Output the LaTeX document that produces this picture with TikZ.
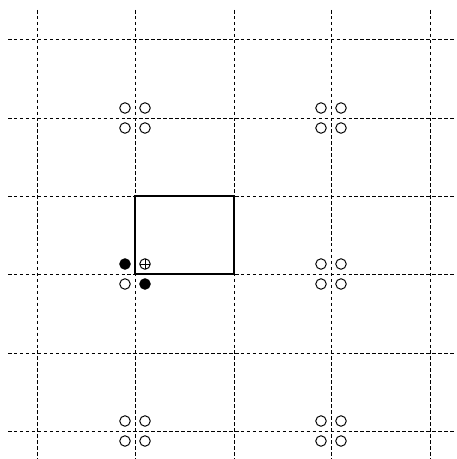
\documentclass[tikz,border=0pt]{standalone}
\begin{document}
\begin{tikzpicture}[x=0.02cm,y=-0.02cm]
  \tikzset{
  grid_line/.style={dash pattern=on 2pt off 1.4pt, line width=0.55pt},
  hole/.style={circle, draw, line width=0.55pt, inner sep=0pt, minimum size=0.21cm},
  dot/.style={hole, fill=black},
  probe/.style={hole, path picture={
      \draw[line width=0.45pt] (path picture bounding box.north) -- (path picture bounding box.south)
        (path picture bounding box.west) -- (path picture bounding box.east);}},
  quad/.pic={
    % four holes round a grid point
    \node[hole] (-nw) at (-10,-10) {};
    \node[hole] (-ne) at (10,-10) {};
    \node[hole] (-sw) at (-10,10) {};
    \node[hole] (-se) at (10,10) {};
  }
}
  \useasboundingbox (0,0) rectangle (456,459);

  % grid
  \foreach \gx in {37,135,234,331,430}
    \draw[grid_line] (\gx,10) -- (\gx,459);
  \foreach \gy in {39,118,196,274,353,431}
    \draw[grid_line] (8,\gy) -- (456,\gy);

  % cell
  \draw[line width=1.1pt] (135,196) rectangle (234,274);

  % hole groups
  \pic (q_a) at (135,118) {quad};
  \pic (q_b) at (331,118) {quad};
  \pic (q_c) at (331,274) {quad};
  \pic (q_d) at (135,431) {quad};
  \pic (q_e) at (331,431) {quad};

  % marked group
  \node[dot] (m_nw) at (125,264) {};
  \node[probe] (m_ne) at (145,264) {};
  \node[hole] (m_sw) at (125,284) {};
  \node[dot] (m_se) at (145,284) {};
\end{tikzpicture}
\end{document}
